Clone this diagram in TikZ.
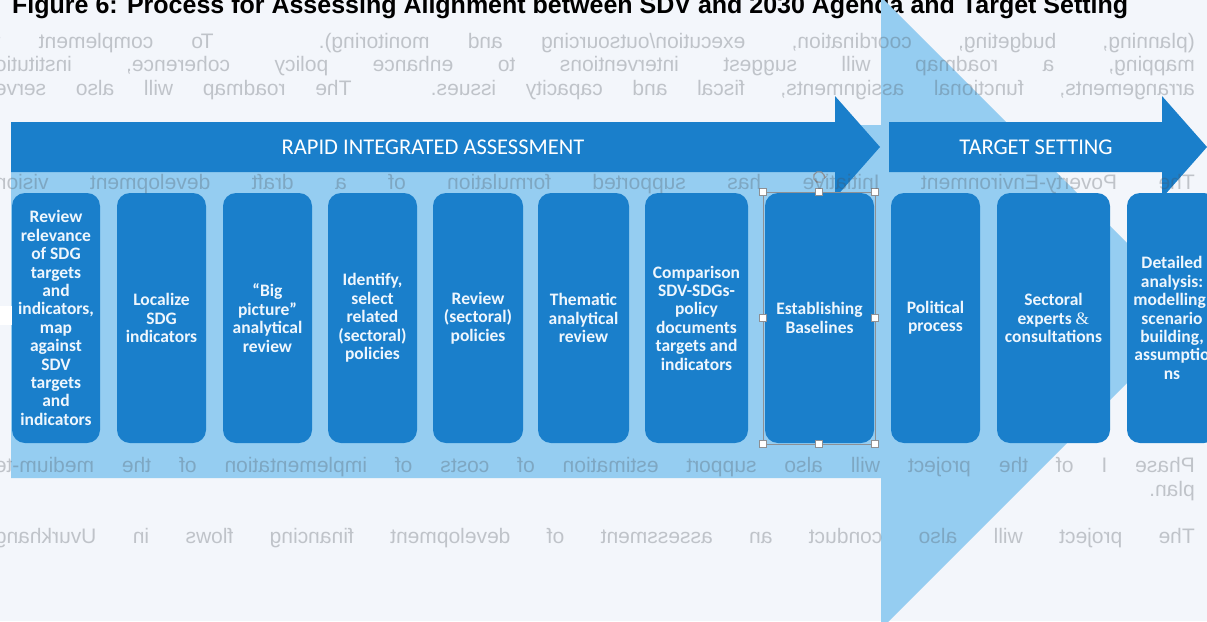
\documentclass[tikz,border=0pt]{standalone}
\usepackage{fontspec}
\setmainfont{Carlito}
\newfontfamily\arialfont{Liberation Sans}
\newfontfamily\ampfont{Liberation Serif}
\usetikzlibrary{arrows.meta,calc}

\definecolor{pagebg}{HTML}{F3F6FB}
\definecolor{deepblue}{HTML}{1A7FCB}
\definecolor{paleblue}{HTML}{95CDF1}
\definecolor{boxtext}{HTML}{EEF6FD}
\definecolor{handlegray}{HTML}{8E9094}
\definecolor{showthrough}{HTML}{4A5058}

\tikzset{
  stagebox/.style={fill=deepblue, rounded corners=13pt, draw=none, inner sep=0pt,
    minimum height=250pt, align=center, text=boxtext,
    font=\fontsize{17.5}{18.4}\selectfont\bfseries},
  banner/.style={text=white, font=\fontsize{22.5}{26}\selectfont, inner sep=0pt},
  handle/.style={draw=handlegray, fill=white, line width=0.7pt, minimum size=7pt, inner sep=0pt},
  backline/.style={anchor=base west, inner sep=0pt, transform shape, text=showthrough,
    text opacity=0.3, font=\arialfont\fontsize{21}{23}\selectfont},
}

\begin{document}
\begin{tikzpicture}[x=1pt, y=-1pt]
\useasboundingbox (0,0) rectangle (1207,621);
\clip (0,0) rectangle (1207,621);
\fill[pagebg] (0,0) rectangle (1207,621);

% figure caption of the page
\node[anchor=base west, inner sep=0pt, font=\arialfont\bfseries\fontsize{25}{30}\selectfont]
  (caption) at (12,13) {Figure 6: Process for Assessing Alignment between SDV and 2030 Agenda and Target Setting};

% large pale block arrow behind the stages
\fill[paleblue] (11,125) -- (881,125) -- (881,-3) -- (1197,313) -- (881,629)
  -- (881,478) -- (11,478) -- cycle;

% phase banners
\fill[deepblue] (11,122) -- (835,122) -- (835,96) -- (880,147) -- (835,198)
  -- (835,172) -- (11,172) -- cycle;
\fill[deepblue] (889,122) -- (1162,122) -- (1162,96) -- (1207,147) -- (1162,198)
  -- (1162,172) -- (889,172) -- cycle;
\node[banner] (rapid) at (433,147) {RAPID INTEGRATED ASSESSMENT};
\node[banner] (target) at (1036,147) {TARGET SETTING};

% stage boxes
\node[stagebox, minimum width=88pt] (s1) at (56,318)
  {Review\\relevance\\of SDG\\targets\\and\\indicators,\\map\\against\\SDV\\targets\\and\\indicators};
\fill[white] (0,306) rectangle (12,325);
\node[stagebox, minimum width=89pt] (s2) at (161.5,318) {Localize\\SDG\\indicators};
\node[stagebox, minimum width=89pt] (s3) at (267.5,318) {“Big\\picture”\\analytical\\review};
\node[stagebox, minimum width=89pt] (s4) at (372.5,318) {Identify,\\select\\related\\(sectoral)\\policies};
\node[stagebox, minimum width=90pt] (s5) at (478,318) {Review\\(sectoral)\\policies};
\node[stagebox, minimum width=91pt] (s6) at (583.5,318) {Thematic\\analytical\\review};
\node[stagebox, minimum width=103pt] (s7) at (696.5,318) {Comparison\\SDV-SDGs-\\policy\\documents\\targets and\\indicators};
\node[stagebox, minimum width=109pt] (s8) at (819.5,318) {Establishing\\Baselines};
\node[stagebox, minimum width=89pt] (s9) at (935.5,318) {Political\\process};
\node[stagebox, minimum width=113pt] (s10) at (1053.5,318) {Sectoral\\experts {\ampfont\mdseries\&}\\consultations};
\node[stagebox, minimum width=90pt] (s11) at (1172,318) {Detailed\\analysis:\\modelling,\\scenario\\building,\\assumptio\\ns};

% selection frame with handles around the baseline stage
\draw[handlegray, line width=0.6pt] (763,192) rectangle (875,444);
\foreach \hx/\hy [count=\k] in {763/192, 819/192, 875/192, 763/318, 875/318, 763/444, 819/444, 875/444}
  \node[handle] (h\k) at (\hx,\hy) {};
\coordinate (rot) at (819,177);
\draw[handlegray, line width=1.1pt, -{Stealth[length=3.5pt,width=4pt]}]
  ($(rot)+(70:5.5)$) arc[start angle=70, end angle=380, radius=5.5];

% text of the reverse side of the sheet, showing through mirrored
\begin{scope}[shift={(1207,0)}, xscale=-1]
  \node[backline] (r0) at (12,48)
    {\makebox[1200pt][s]{(planning, budgeting, coordination, execution/outsourcing and monitoring). To complement t}};
  \node[backline] (r1) at (12,71.6)
    {\makebox[1200pt][s]{mapping, a roadmap will suggest interventions to enhance policy coherence, institutio}};
  \node[backline] (r2) at (12,95.2)
    {\makebox[1200pt][s]{arrangements, functional assignments, fiscal and capacity issues. The roadmap will also serve}};
  \node[backline] (r6) at (12,189.6)
    {\makebox[1200pt][s]{The Poverty-Environment Initiative has supported formulation of a draft development vision}};
  \node[backline] (r18) at (12,472.8)
    {\makebox[1200pt][s]{Phase I of the project will also support estimation of costs of implementation of the medium-te}};
  \node[backline] (r19) at (12,496.4) {plan.};
  \node[backline] (r21) at (12,543.6)
    {\makebox[1200pt][s]{The project will also conduct an assessment of development financing flows in Uvurkhang}};
\end{scope}
\end{tikzpicture}
\end{document}
